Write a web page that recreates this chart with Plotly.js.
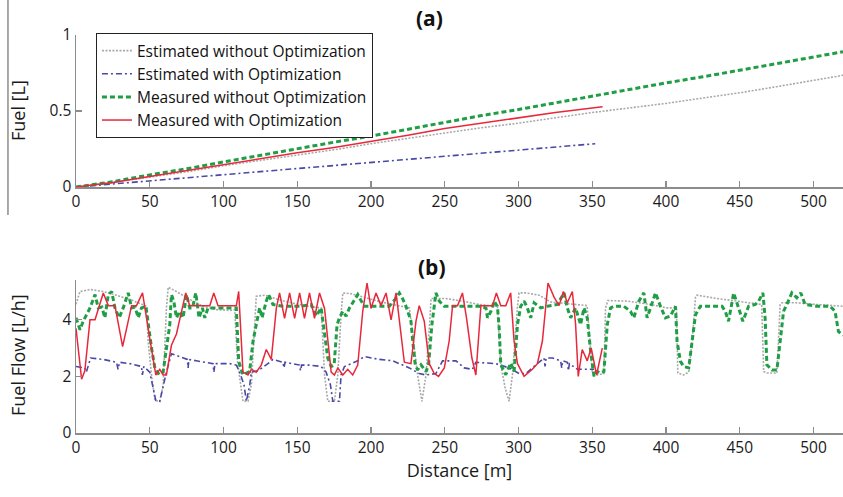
<!DOCTYPE html>
<html>
<head>
<meta charset="utf-8">
<script src="https://cdn.plot.ly/plotly-3.0.1.min.js"></script>
<style>html,body{margin:0;padding:0;background:#fff;}#chart{width:843px;height:497px;}</style>
</head>
<body>
<div id="chart"></div>
<script>
// ---------- Panel (a): cumulative fuel [L] ----------
const cumDistFull = [0,25,50,75,100,125,150,175,200,225,250,275,300,325,350,375,400,425,450,475,500,520];
const cumEstNoOpt = [0,0.03,0.065,0.1,0.14,0.175,0.21,0.245,0.285,0.32,0.355,0.39,0.42,0.455,0.49,0.52,0.55,0.585,0.62,0.66,0.70,0.735];
const cumMeasNoOpt = [0,0.035,0.08,0.12,0.165,0.21,0.255,0.295,0.335,0.38,0.43,0.47,0.51,0.555,0.60,0.64,0.685,0.725,0.77,0.81,0.855,0.89];
const cumDistEstOpt = [0,25,50,75,100,125,150,175,200,225,250,275,300,325,352];
const cumEstOpt = [0,0.02,0.04,0.06,0.08,0.1,0.12,0.14,0.16,0.18,0.20,0.22,0.24,0.262,0.285];
const cumDistMeasOpt = [0,25,50,75,100,125,150,175,200,225,250,275,300,325,350,357];
const cumMeasOpt = [0,0.03,0.07,0.11,0.15,0.19,0.225,0.26,0.30,0.34,0.385,0.42,0.455,0.49,0.52,0.528];

// ---------- Panel (b): fuel flow [L/h] ----------
const flowEstNoOptD = [0,2.7,9.5,18.5,25.2,36.5,47.8,48.9,51.2,53.5,56.8,59.1,61.3,62.5,68.1,77.1,86.1,95.2,104.2,107.6,109.4,112.1,113.2,116.6,118.9,122.2,127.9,136.9,145.9,157.2,166.2,168.5,170.7,175.2,177.5,179.7,180.9,186.5,195.5,206.8,214.7,226,229.4,231.6,234.5,237.3,240,240.7,250.7,262,273.3,285.7,288,291,293.6,295.9,299.3,300.4,304.9,313.9,321.9,333.1,344.4,346.5,350,353.4,357.9,359,360.6,373.7,389.5,400.8,407.1,408,412,415.4,417.7,420,421,434.6,448.1,462.8,464.9,466.2,468.4,475.2,477.4,478.6,488.7,502.2,520];
const flowEstNoOptV = [4.55,5.0,5.07,5.0,4.9,4.72,4.48,3.25,2.05,1.15,1.12,1.7,4.4,5.15,5.0,4.72,4.48,4.36,4.33,4.35,2.55,1.6,1.12,1.12,1.7,4.83,4.87,4.72,4.6,4.48,4.42,2.05,1.12,1.12,2.05,4.2,4.95,4.92,4.78,4.63,4.54,4.42,3.0,2.05,1.12,2.05,4.07,4.75,4.75,4.66,4.54,4.48,2.4,1.58,1.12,2.05,4.48,4.95,4.95,4.87,4.63,4.56,4.51,4.5,2.17,2.05,2.1,4.42,4.68,4.66,4.54,4.42,4.42,2.12,2.05,2.15,3.24,4.8,4.87,4.75,4.66,4.56,4.54,2.17,2.12,2.12,4.54,4.6,4.6,4.54,4.48];

const flowEstOptD = [0,6,7,8,9.9,18.5,27.5,28.5,29.5,36.5,44.4,45,46,50,54.1,56.8,59.1,61.3,64.7,72.6,75.5,76,76.5,81.6,92.9,93.5,94.2,104.2,108.7,111,113.9,115.5,117.8,118.9,123.4,130.1,133.5,140.3,141,141.7,145.9,151.6,152.2,153,158.3,166.2,169.6,172.5,174.1,178.6,179.7,182,191,195.5,205.7,214.7,221.5,226,232.7,237.3,244,248.5,257.6,263.2,268.8,271.1,284.6,293.6,300.4,304.9,309.4,312.8,317.3,318,318.7,323,328.6,329.3,330,333.1,333.8,334.5,339.9,346.6,351.2];
const flowEstOptV = [2.35,2.3,2.15,2.35,2.65,2.6,2.5,2.25,2.5,2.45,2.35,2.05,2.35,2.15,1.15,1.12,1.7,2.15,2.8,2.65,2.6,2.3,2.6,2.55,2.45,2.15,2.45,2.45,2.4,2.15,1.7,1.12,1.7,2.15,2.2,2.45,2.6,2.5,2.3,2.5,2.45,2.4,2.2,2.4,2.4,2.35,2.15,1.7,1.12,1.12,2.05,2.35,2.55,2.7,2.6,2.55,2.4,2.3,2.1,2.05,2.1,2.55,2.55,2.3,2.25,2.5,2.45,2.3,2.1,2.1,2.3,2.45,2.65,2.35,2.65,2.65,2.55,2.3,2.55,2.5,2.2,2.45,2.25,2.25,2.25];

const flowMeasNoOptD = [0,2.7,4.9,7.2,9.5,12.9,15.1,17.5,19.6,21.9,24.2,26.4,29.3,32,35.4,37.7,40,42.2,44.4,47.4,48.9,51.2,53.5,56.4,59.1,61.3,63.6,64.7,66.3,68.1,70.4,72.6,74.9,77.1,79,81.2,83.4,85.7,87.3,89.5,104.2,108.7,110.3,113.2,117.7,120,122.2,124.5,126.1,127.2,129,130.6,133.5,140.3,152.7,159.5,162.9,166.2,168.5,170.7,173,175,177,178.6,180.9,183.1,185.4,187.6,191,193,195.5,212.4,216,219.2,221,223.7,227.1,228.3,230,231.6,233.9,237.3,239,241.3,242.9,244,246.3,249.7,273.3,277.9,279,281.3,283.5,285.7,286.9,288,291.4,294.7,297,299.3,301.5,303.8,306,308.3,310.6,315.1,319.6,326.3,330.9,333.1,335.4,338.7,342.1,344.4,346.6,348.9,351.2,353.4,355.7,357.9,360.2,362.4,364.7,371.4,375.9,378.2,381.6,385,387.2,390.6,392.9,396.2,399.6,403,406.4,407.5,409.8,412,415.4,417.7,420,423.3,438,440.2,442.4,445.9,449.3,452.1,456,460.5,462.8,465.7,467.2,468.4,471.8,475.2,477.4,479.7,481.9,485.3,488.7,491.4,494.3,502.2,511.3,514.6,516.9,520];
const flowMeasNoOptV = [4.07,3.65,3.95,4.18,4.42,4.89,4.42,4.45,4.07,4.89,5.0,4.42,4.07,4.42,4.95,4.42,4.45,4.07,4.42,4.48,3.83,3.0,2.29,2.06,2.17,3.0,3.83,4.89,4.66,4.07,4.3,4.07,4.89,4.42,4.42,4.95,4.07,4.42,4.07,4.42,4.42,4.42,2.53,2.06,2.17,3.24,3.83,4.42,4.07,4.3,4.66,4.89,4.54,4.48,4.48,4.54,4.13,4.42,3.59,2.65,2.35,2.4,3.83,4.07,4.3,4.13,4.42,4.6,4.89,4.7,4.48,4.48,4.7,4.95,4.8,4.48,3.95,3.24,2.41,2.23,2.41,2.17,2.4,3.83,4.48,4.95,4.66,4.48,4.48,4.42,4.07,4.3,4.66,4.48,3.71,2.41,2.06,2.47,2.17,3.83,4.48,4.66,4.42,4.07,4.6,4.42,4.48,4.54,4.95,4.42,4.07,4.42,3.83,4.42,4.07,2.88,2.0,2.17,2.12,2.17,3.83,4.42,4.48,4.48,4.3,4.07,4.66,4.95,4.07,4.6,4.95,4.48,4.07,4.13,4.48,3.24,2.53,2.35,2.3,3.24,4.18,4.48,4.48,4.3,3.95,4.95,4.42,3.95,4.48,4.54,4.66,4.95,4.07,2.41,2.23,2.23,3.24,4.3,4.54,4.95,4.78,4.95,4.54,4.48,4.48,4.3,3.59,3.45];

const flowMeasOptD = [0,3.8,6,9.5,12.9,18.5,21.9,26.4,31.6,37.7,41,45.1,50,54.1,56.8,59.1,61.3,64.7,68.1,74.4,77.1,90.7,93.4,96.3,108.7,110.3,113.2,116.6,118.9,122.2,125.6,129,132.4,135.8,138,141.4,144.8,148.2,151.6,154.9,158.3,161.7,165.1,168.5,173,175.2,177.5,180.9,184.2,187.6,191,194.4,197.3,200,203.4,206.8,210.2,213.6,217,222.6,227.1,230.5,232.7,236.1,239.5,242.9,245.8,249.7,253,255.3,258.7,262,264.8,268.4,271.1,274.5,282.4,285,288,291.4,294.7,297,299.3,303.8,309.4,312.8,316.2,320,324.1,327.5,330.4,333.1,336.5,338.7,340.5,343.2,346.6,349.3,352.9,356.8];
const flowMeasOptV = [3.7,1.9,2.2,4.0,4.0,4.95,4.5,4.5,3.05,4.5,4.5,4.95,3.35,2.05,2.25,2.05,2.05,3.1,3.5,4.95,4.5,4.5,4.95,4.5,4.5,5.0,2.15,2.05,2.25,2.15,2.4,2.95,2.6,4.4,4.95,4.05,4.95,4.05,4.95,4.05,4.95,4.05,4.95,4.4,2.15,2.05,2.3,2.05,2.25,2.05,2.4,4.3,5.3,4.4,4.95,4.5,4.95,4.0,4.95,2.5,2.45,3.95,4.5,3.95,2.45,2.1,2.0,2.3,3.25,4.5,4.5,4.95,4.05,2.65,2.05,4.5,4.5,4.95,4.5,4.5,4.95,3.25,2.45,2.0,2.25,2.45,3.25,5.3,4.8,4.5,5.0,4.6,5.0,3.85,2.0,2.95,2.55,3.0,2.05,3.0];

// tick labels
const xTicks = [0,50,100,150,200,250,300,350,400,450,500];
const yTicksA = [0,0.5,1];
const yTickTextA = ['0','0.5','1'];
const yTicksB = [0,2,4];
const seriesNames = ['Estimated without Optimization','Estimated with Optimization','Measured without Optimization','Measured with Optimization'];

// ---------- styles ----------
const FONT = 'Open Sans, Noto Sans, sans-serif';
const styles = [
  {color:'#a8a8a8', width:1.6, dash:'2px,1.5px'},
  {color:'#4a48a6', width:1.6, dash:'6px,3px,2px,3px'},
  {color:'#1f9e45', width:3, dash:'5px,3px'},
  {color:'#e8283a', width:1.5, dash:'solid'}
];

const traces = [
  {x:cumDistFull, y:cumEstNoOpt, name:seriesNames[0], xaxis:'x', yaxis:'y', line:styles[0]},
  {x:cumDistEstOpt, y:cumEstOpt, name:seriesNames[1], xaxis:'x', yaxis:'y', line:styles[1]},
  {x:cumDistFull, y:cumMeasNoOpt, name:seriesNames[2], xaxis:'x', yaxis:'y', line:styles[2]},
  {x:cumDistMeasOpt, y:cumMeasOpt, name:seriesNames[3], xaxis:'x', yaxis:'y', line:styles[3]},
  {x:flowEstNoOptD, y:flowEstNoOptV, name:seriesNames[0], xaxis:'x2', yaxis:'y2', line:styles[0], showlegend:false},
  {x:flowEstOptD, y:flowEstOptV, name:seriesNames[1], xaxis:'x2', yaxis:'y2', line:styles[1], showlegend:false},
  {x:flowMeasNoOptD, y:flowMeasNoOptV, name:seriesNames[2], xaxis:'x2', yaxis:'y2', line:styles[2], showlegend:false},
  {x:flowMeasOptD, y:flowMeasOptV, name:seriesNames[3], xaxis:'x2', yaxis:'y2', line:styles[3], showlegend:false}
].map(t => Object.assign({type:'scatter', mode:'lines', hoverinfo:'skip'}, t));

const axBase = {
  showline:true, linecolor:'#8c8c8c', linewidth:1.5,
  ticks:'inside', ticklen:6, tickcolor:'#8c8c8c', tickwidth:1.2,
  showgrid:false, zeroline:false,
  tickfont:{family:FONT, size:15.5, color:'#1a1a1a'}
};

const titleFont = {family:FONT, size:18, color:'#1a1a1a'};

const layout = {
  width:843, height:497,
  margin:{l:76, r:0, t:35, b:64},
  paper_bgcolor:'#fff', plot_bgcolor:'#fff',
  showlegend:true,
  legend:{x:0.026, y:1.005, xanchor:'left', yanchor:'top',
    bgcolor:'#fff', bordercolor:'#222', borderwidth:1,
    font:{family:FONT, size:15.5, color:'#111'}, tracegroupgap:0, itemwidth:30},
  xaxis:Object.assign({}, axBase, {domain:[0,1], range:[0,520], tickvals:xTicks, anchor:'y'}),
  yaxis:Object.assign({}, axBase, {domain:[0.618,1], range:[0,1], tickvals:yTicksA, ticktext:yTickTextA, anchor:'x'}),
  xaxis2:Object.assign({}, axBase, {domain:[0,1], range:[0,520], tickvals:xTicks, anchor:'y2',
    title:{text:'Distance [m]', font:titleFont, standoff:4}}),
  yaxis2:Object.assign({}, axBase, {domain:[0,0.384], range:[0,5.4], tickvals:yTicksB, anchor:'x2'}),
  annotations:[
    {text:'<b>(a)</b>', xref:'paper', yref:'paper', x:0.461, y:1.043, xanchor:'center', yanchor:'middle', showarrow:false,
      font:{family:FONT, size:21, color:'#111'}},
    {text:'<b>(b)</b>', xref:'paper', yref:'paper', x:0.464, y:0.417, xanchor:'center', yanchor:'middle', showarrow:false,
      font:{family:FONT, size:21, color:'#111'}},
    {text:'Fuel [L]', xref:'paper', yref:'paper', x:-0.0756, y:0.809, xanchor:'center', yanchor:'middle', textangle:-90, showarrow:false,
      font:titleFont},
    {text:'Fuel Flow [L/h]', xref:'paper', yref:'paper', x:-0.0756, y:0.196, xanchor:'center', yanchor:'middle', textangle:-90, showarrow:false,
      font:titleFont}
  ],
  shapes:[
    {type:'line', xref:'paper', yref:'paper', x0:-0.0887, x1:-0.0887, y0:0.548, y1:1.088, line:{color:'#8c8c8c', width:1.5}}
  ]
};

Plotly.newPlot('chart', traces, layout, {staticPlot:true, displayModeBar:false});
</script>
</body>
</html>
